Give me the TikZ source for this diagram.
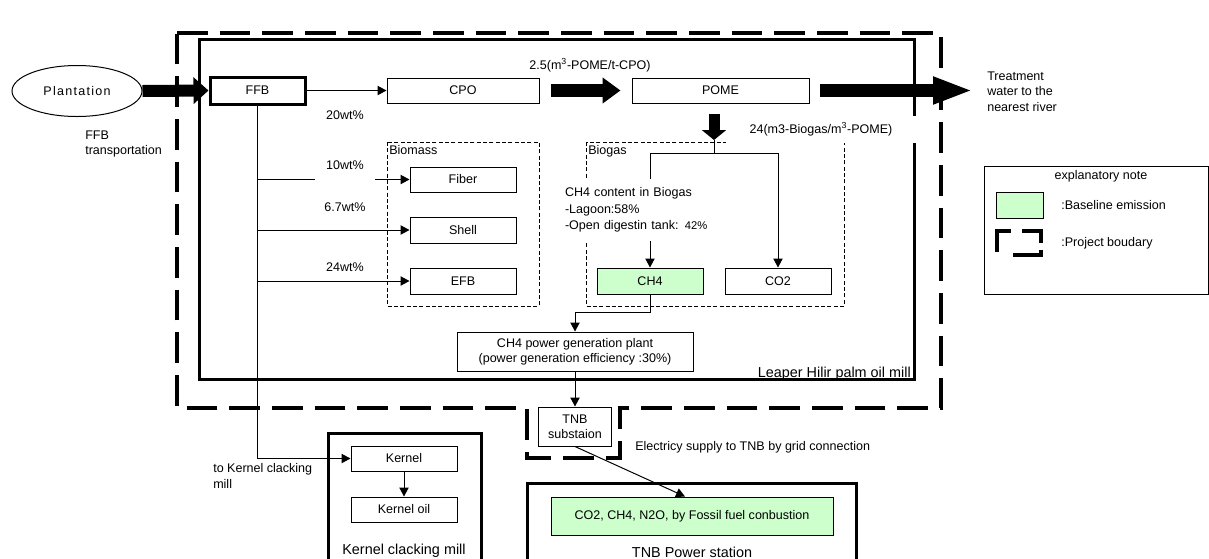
\documentclass[tikz,border=0pt]{standalone}
\usepackage{fontspec}
\setmainfont{Liberation Sans}
\usetikzlibrary{arrows.meta,shapes.geometric,calc}
\definecolor{emis}{RGB}{204,255,204}
\begin{document}
\begin{tikzpicture}[x=0.75pt,y=-0.75pt,
  every node/.style={font=\fontsize{9.4pt}{11.4pt}\selectfont, inner sep=0pt},
  box/.style={draw, line width=0.75pt, inner sep=2pt, align=center},
  arr/.style={line width=0.75pt, -{Triangle[length=6.75pt,width=7pt]}},
  ln/.style={line width=0.75pt},
  big/.style={font=\fontsize{10.8pt}{13pt}\selectfont},
  bound/.style={line width=3pt, dash pattern=on 23pt off 9pt},
  thindash/.style={line width=0.75pt, dash pattern=on 3pt off 1.75pt},
  heavy/.style={line width=2.25pt},
  stdbox/.style={box, minimum width=79.5pt, minimum height=19.5pt},
]
\useasboundingbox (0,0) rectangle (1209,558);

% project boundary
\draw[bound] (177,33) -- (941,33) -- (941,408) -- (620,408) -- (620,458) -- (527,458) -- (527,408) -- (177,408) -- cycle;
% palm oil mill
\draw[heavy] (199,39) rectangle (914,379);
% kernel mill and TNB power station
\draw[heavy] (328,433) rectangle (481,575);
\draw[heavy] (527,483) rectangle (856,575);
% dashed groups
\draw[thindash] (387,142) rectangle (539,306);
\draw[thindash] (586,142) rectangle (844,306);

% nodes
\node[draw, ellipse, line width=0.75pt, minimum width=97.5pt, minimum height=38.25pt] (plant) at (77,91) {\addfontfeature{LetterSpace=10}Plantation};
\node[box, heavy, minimum width=71.25pt, minimum height=20.25pt] (FFB) at (257.5,90.5) {FFB};
\node[box, minimum width=114pt, minimum height=18.75pt] (CPO) at (463,90.5) {CPO};
\node[box, minimum width=132.75pt, minimum height=18.75pt] (POME) at (720.5,90.5) {POME};
\node[stdbox, minimum height=18.75pt] (Fiber) at (463,179.5) {Fiber};
\node[stdbox] (Shell) at (463,230) {Shell};
\node[stdbox] (EFB) at (463,281) {EFB};
\node[stdbox, fill=emis] (CH4) at (650,281) {CH4};
\node[stdbox] (CO2) at (778,281) {CO2};
\node[box, minimum width=177pt, minimum height=29.25pt] (gen) at (575,351.5) {CH4 power generation plant\\(power generation efficiency :30\%)};
\node[box, minimum width=54.75pt, minimum height=29.25pt] (TNB) at (575,426.5) {TNB\\substaion};
\node[stdbox, minimum height=18.75pt] (Kernel) at (404,458.5) {Kernel};
\node[stdbox, minimum height=18.75pt] (Koil) at (404,509.5) {Kernel oil};
\node[box, fill=emis, minimum width=211.5pt, minimum height=28.5pt] (Emis) at (692,516) {CO2, CH4, N2O, by Fossil fuel conbustion};
\coordinate (river) at (973,90.5);
\coordinate (bgtop) at (714,140);
\coordinate (split) at (714,153);

% thick arrows
\draw[line width=9pt, -{Triangle[length=11.25pt,width=19.5pt]}] (plant.east) -- (FFB.west);
\draw[line width=9.75pt, -{Triangle[length=13.5pt,width=18.75pt]}, shorten <=8.25pt, shorten >=8.25pt] (CPO.east) -- (POME.west);
\draw[line width=9.75pt, -{Triangle[length=30pt,width=18.75pt]}, shorten <=7.5pt] (POME.east) -- (river);
\draw[line width=8.25pt, -{Triangle[length=7.5pt,width=18pt]}, shorten <=7.5pt] (POME.south -| bgtop) -- (bgtop);

% thin connectors
\draw[arr] (FFB.east) -- (CPO.west);
\draw[arr] (FFB.south) |- (Kernel.west);
\draw[arr] (FFB.south |- Fiber.west) -- (Fiber.west);
\draw[arr] (FFB.south |- Shell.west) -- (Shell.west);
\draw[arr] (FFB.south |- EFB.west) -- (EFB.west);
\draw[ln] (bgtop) -- (split);
\draw[arr] (split) -| (CH4.north);
\draw[arr] (split) -| (CO2.north);
\draw[arr] (CH4.south) -- ++(0,18) -| (gen.north);
\draw[arr] (gen.south) -- (TNB.north);
\draw[arr] (TNB.south) -- ($(Emis.north)+(-7,0)$);
\draw[arr] (Kernel.south) -- (Koil.north);

% labels
\node (l20) at (345,115) {20wt\%};
\node[fill=white, minimum width=45pt, text height=7pt, text depth=15pt, anchor=base] (l10) at (345,169) {10wt\%};
\node (l67) at (345,207) {6.7wt\%};
\node (l24) at (345,267) {24wt\%};
\node[anchor=north west] (biomass) at (389,145) {Biomass};
\node[anchor=north west] (biogas) at (588,145) {Biogas};
\node (l25) at (590,65) {2.5(m\textsuperscript{3}-POME/t-CPO)};
\node[fill=white, minimum width=142.5pt, minimum height=20.25pt] (l24b) at (821,129.5) {24(m3-Biogas/m\textsuperscript{3}-POME)};
\node[fill=white, text width=108pt, inner xsep=1.5pt, inner ysep=0pt, minimum height=46.5pt, align=left, font=\fontsize{9.4pt}{12.4pt}\selectfont] (content) at (637,210) {CH4 content in Biogas\\-Lagoon:58\%\\-Open digestin tank: {\fontsize{8.4pt}{12.4pt}\selectfont 42\%}};
\node[anchor=north west, align=left] (ffbt) at (85,130.5) {FFB\\transportation};
\node[anchor=north west, align=left, font=\fontsize{9.4pt}{11.6pt}\selectfont] (treat) at (987,71.5) {Treatment\\water to the\\nearest river};
\node[big, anchor=base east] (mill) at (911,377) {Leaper Hilir palm oil mill};
\node[big] (kmill) at (404,551) {Kernel clacking mill};
\node[big] (tnbps) at (692,552) {TNB Power station};
\node[anchor=west] (elec) at (635,447) {Electricy supply to TNB by grid connection};
\node[anchor=north west, align=left] (tokm) at (213,463.5) {to Kernel clacking\\mill};

% legend
\node[draw, line width=0.75pt, minimum width=168pt, minimum height=96pt] (legend) at (1096,230) {};
\node (legtitle) at (1101,176) {explanatory note};
\node[draw, fill=emis, line width=0.75pt, minimum width=35.25pt, minimum height=19.5pt] (swatch) at (1019.5,205) {};
\node[anchor=west] (legbase) at (1061,205) {:Baseline emission};
\node[anchor=west] (legproj) at (1061,243) {:Project boudary};
\draw[line width=3pt] (997,252) -- (997,231) -- (1011,231);
\draw[line width=3pt] (1022,231) -- (1041,231) -- (1041,243);
\draw[line width=3pt] (1013,255) -- (1041,255) -- (1041,250);
\end{tikzpicture}
\end{document}
